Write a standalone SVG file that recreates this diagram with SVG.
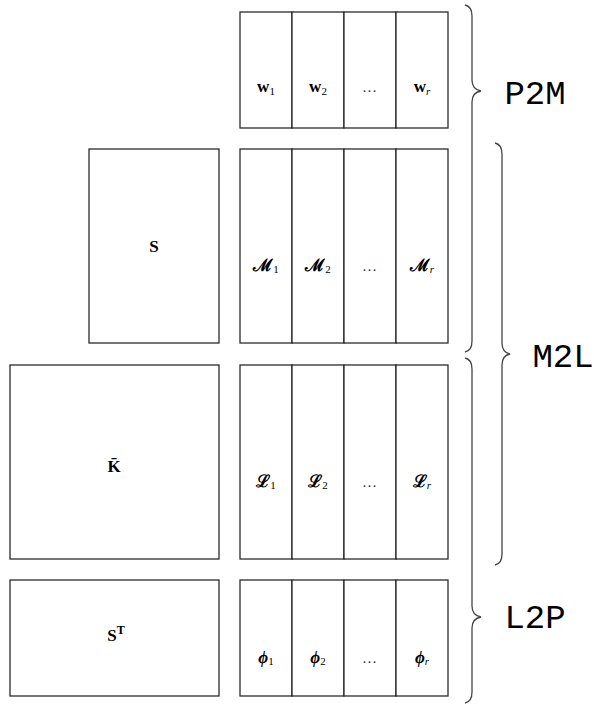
<svg xmlns="http://www.w3.org/2000/svg" width="594" height="705" viewBox="0 0 594 705">
<style>
.box{fill:#fff;stroke:#1a1a1a;stroke-width:1.2}
.brace{fill:none;stroke:#444;stroke-width:1.3}
.m{font-family:"Liberation Serif","DejaVu Serif",serif;font-size:17px;font-weight:bold;fill:#000;text-anchor:middle}
.mi{font-family:"Liberation Serif","DejaVu Serif",serif;font-size:17px;font-weight:bold;font-style:italic;fill:#000;text-anchor:middle}
.cal{font-family:"DejaVu Serif",serif;font-size:17px;font-weight:bold;fill:#000;text-anchor:middle}
.sub{font-family:"Liberation Serif",serif;font-size:11px;font-weight:normal;font-style:normal}
.subi{font-family:"Liberation Serif",serif;font-size:11px;font-weight:normal;font-style:italic}
.dots{font-family:"Liberation Serif",serif;font-size:15px;fill:#333;text-anchor:middle;letter-spacing:1px}
.lbl{font-family:"Liberation Mono","DejaVu Sans Mono",monospace;font-size:34px;fill:#000;text-anchor:middle}
</style>
<g id="left-S">
<rect class="box" x="89" y="149" width="130" height="194"/>
<text class="m" x="154" y="252">S</text>
</g>
<g id="left-K">
<rect class="box" x="10" y="365" width="209" height="194"/>
<text class="m" x="114" y="472">K̄</text>
</g>
<g id="left-ST">
<rect class="box" x="10" y="580" width="209" height="116"/>
<text class="m" x="116" y="641">S<tspan font-size="12px" dy="-7">T</tspan></text>
</g>
<g id="row-w">
<rect class="box" x="240" y="12" width="52" height="116"/>
<rect class="box" x="292" y="12" width="52" height="116"/>
<rect class="box" x="344" y="12" width="52" height="116"/>
<rect class="box" x="396" y="12" width="52" height="116"/>
<text class="m" x="266" y="92">w<tspan class="sub" dy="3">1</tspan></text>
<text class="m" x="318" y="92">w<tspan class="sub" dy="3">2</tspan></text>
<text class="dots" x="370" y="92">…</text>
<text class="m" x="422" y="92">w<tspan class="subi" dy="3">r</tspan></text>
</g>
<g id="row-M">
<rect class="box" x="240" y="149" width="52" height="194"/>
<rect class="box" x="292" y="149" width="52" height="194"/>
<rect class="box" x="344" y="149" width="52" height="194"/>
<rect class="box" x="396" y="149" width="52" height="194"/>
<text class="cal" x="266" y="271">ℳ<tspan class="sub" dy="2">1</tspan></text>
<text class="cal" x="318" y="271">ℳ<tspan class="sub" dy="2">2</tspan></text>
<text class="dots" x="370" y="271">…</text>
<text class="cal" x="422" y="271">ℳ<tspan class="subi" dy="2">r</tspan></text>
</g>
<g id="row-L">
<rect class="box" x="240" y="365" width="52" height="194"/>
<rect class="box" x="292" y="365" width="52" height="194"/>
<rect class="box" x="344" y="365" width="52" height="194"/>
<rect class="box" x="396" y="365" width="52" height="194"/>
<text class="cal" x="266" y="487">ℒ<tspan class="sub" dy="2">1</tspan></text>
<text class="cal" x="318" y="487">ℒ<tspan class="sub" dy="2">2</tspan></text>
<text class="dots" x="370" y="487">…</text>
<text class="cal" x="422" y="487">ℒ<tspan class="subi" dy="2">r</tspan></text>
</g>
<g id="row-phi">
<rect class="box" x="240" y="580" width="52" height="116"/>
<rect class="box" x="292" y="580" width="52" height="116"/>
<rect class="box" x="344" y="580" width="52" height="116"/>
<rect class="box" x="396" y="580" width="52" height="116"/>
<text class="mi" x="266" y="663">ϕ<tspan class="sub" dy="2">1</tspan></text>
<text class="mi" x="318" y="663">ϕ<tspan class="sub" dy="2">2</tspan></text>
<text class="dots" x="370" y="663">…</text>
<text class="mi" x="422" y="663">ϕ<tspan class="subi" dy="2">r</tspan></text>
</g>
<g id="braces">
<path class="brace" d="M465,5 C470,6 472,10 472,16 L472,80 C472,86 475,90 481,91 C475,92 472,96 472,102 L472,341 C472,347 470,351 465,352"/>
<path class="brace" d="M495,143 C500,144 502,148 502,154 L502,343 C502,349 505,353 510,354 C505,355 502,359 502,365 L502,554 C502,560 500,564 495,565"/>
<path class="brace" d="M465,358 C470,359 472,363 472,369 L472,606 C472,612 475,616 481,617 C475,618 472,622 472,628 L472,692 C472,698 470,702 465,703"/>
</g>
<g id="labels">
<text class="lbl" x="535" y="104">P2M</text>
<text class="lbl" x="563" y="367">M2L</text>
<text class="lbl" x="535" y="628">L2P</text>
</g>
</svg>
